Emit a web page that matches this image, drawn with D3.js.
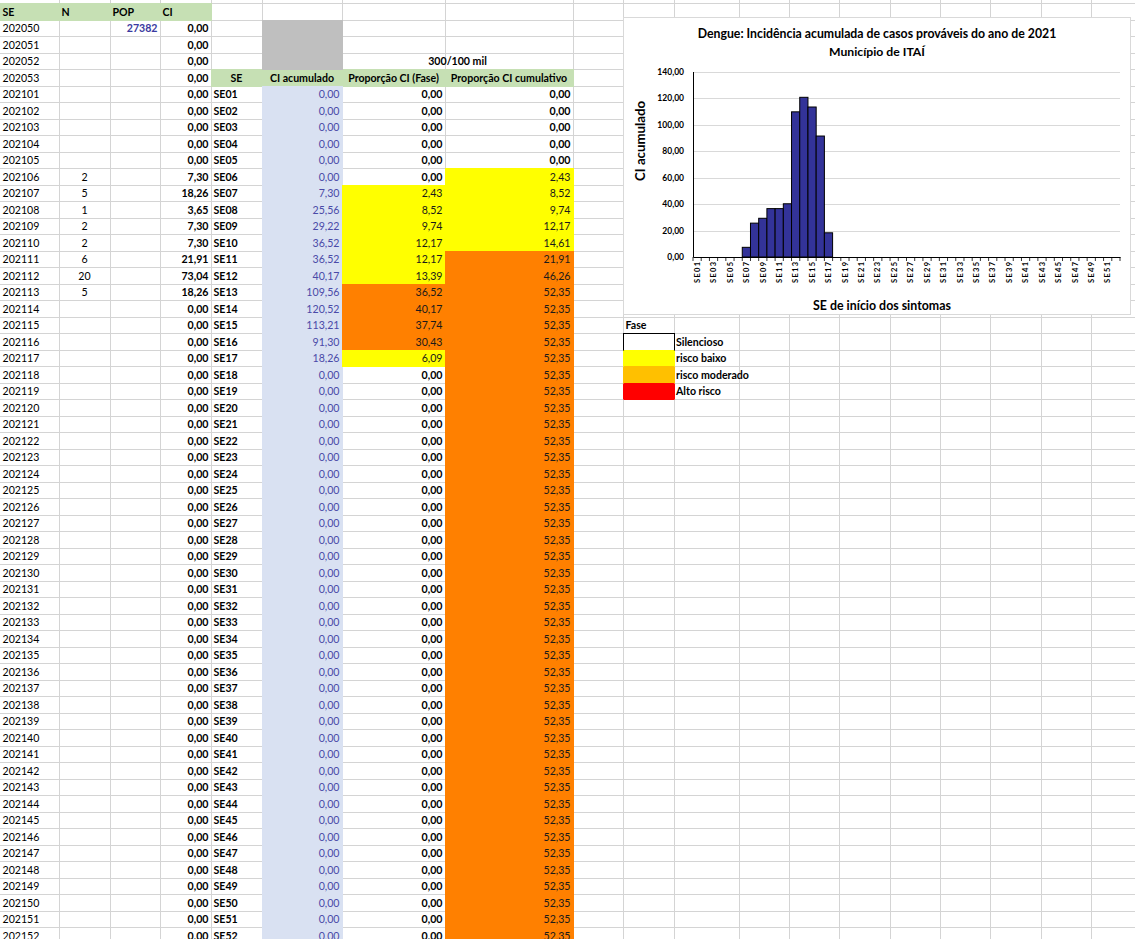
<!DOCTYPE html>
<html><head><meta charset="utf-8">
<script src="https://cdn.jsdelivr.net/npm/d3@7"></script>
<style>
html,body{margin:0;padding:0;background:#fff;overflow:hidden}
svg{display:block;font-family:Lato,"Open Sans",sans-serif}
</style></head><body>
<svg id="sheet" width="1135" height="939"></svg>
<script>
// ---------------- DATA ----------------
const headerLabels = ["SE", "N", "POP", "CI"];
const weekCodes = ["202050","202051","202052","202053",
 "202101","202102","202103","202104","202105","202106","202107","202108","202109","202110",
 "202111","202112","202113","202114","202115","202116","202117","202118","202119","202120",
 "202121","202122","202123","202124","202125","202126","202127","202128","202129","202130",
 "202131","202132","202133","202134","202135","202136","202137","202138","202139","202140",
 "202141","202142","202143","202144","202145","202146","202147","202148","202149","202150",
 "202151","202152"];
const casesN = [null,null,null,null,
 null,null,null,null,null,2,5,1,2,2,
 6,20,5,null,null,null,null,null,null,null,
 null,null,null,null,null,null,null,null,null,null,
 null,null,null,null,null,null,null,null,null,null,
 null,null,null,null,null,null,null,null,null,null,
 null,null];
const popValue = 27382;
const ciWeekly = [0,0,0,0,
 0,0,0,0,0,7.30,18.26,3.65,7.30,7.30,
 21.91,73.04,18.26,0,0,0,0,0,0,0,
 0,0,0,0,0,0,0,0,0,0,
 0,0,0,0,0,0,0,0,0,0,
 0,0,0,0,0,0,0,0,0,0,
 0,0];
const seLabels = ["SE01","SE02","SE03","SE04","SE05","SE06","SE07","SE08","SE09","SE10",
 "SE11","SE12","SE13","SE14","SE15","SE16","SE17","SE18","SE19","SE20",
 "SE21","SE22","SE23","SE24","SE25","SE26","SE27","SE28","SE29","SE30",
 "SE31","SE32","SE33","SE34","SE35","SE36","SE37","SE38","SE39","SE40",
 "SE41","SE42","SE43","SE44","SE45","SE46","SE47","SE48","SE49","SE50",
 "SE51","SE52"];
const ciAcumulado = [0,0,0,0,0,0,7.30,25.56,29.22,36.52,
 36.52,40.17,109.56,120.52,113.21,91.30,18.26,0,0,0,
 0,0,0,0,0,0,0,0,0,0,
 0,0,0,0,0,0,0,0,0,0,
 0,0,0,0,0,0,0,0,0,0,
 0,0];
const propFase = [0,0,0,0,0,0,2.43,8.52,9.74,12.17,
 12.17,13.39,36.52,40.17,37.74,30.43,6.09,0,0,0,
 0,0,0,0,0,0,0,0,0,0,
 0,0,0,0,0,0,0,0,0,0,
 0,0,0,0,0,0,0,0,0,0,
 0,0];
const propCumulativo = [0,0,0,0,0,2.43,8.52,9.74,12.17,14.61,
 21.91,46.26,52.35,52.35,52.35,52.35,52.35,52.35,52.35,52.35,
 52.35,52.35,52.35,52.35,52.35,52.35,52.35,52.35,52.35,52.35,
 52.35,52.35,52.35,52.35,52.35,52.35,52.35,52.35,52.35,52.35,
 52.35,52.35,52.35,52.35,52.35,52.35,52.35,52.35,52.35,52.35,
 52.35,52.35];
const tableHeaders = ["SE", "CI acumulado", "Proporção CI (Fase)", "Proporção CI cumulativo"];
const thresholdLabel = "300/100 mil";
const chartTicksY = [0,20,40,60,80,100,120,140];
const chartTitle = ["Dengue: Incidência acumulada de casos prováveis do ano de 2021", "Município de ITAÍ"];
const yAxisTitle = "CI acumulado";
const xAxisTitle = "SE de início dos sintomas";
const legendTitle = "Fase";
const legendLabels = ["Silencioso","risco baixo","risco moderado","Alto risco"];

// ---------------- LAYOUT / STYLE ----------------
const W = 1135, H = 939;
const colEdges = [0,59,110,160,211,262,342,445,573,623,674,739,789,839,890,940,990,1041,1091,1135];
const rowTop = d3.scaleLinear().domain([0,1]).range([3,19.5]);
const gridColor = "#d4d4d4";
const greenFill = "#C6E0B4", grayFill = "#BFBFBF", blueFill = "#D9E1F2";
const legendColors = ["#FFFFFF","#FFFF00","#FFC000","#FF0000"];
const phaseColor = d3.scaleThreshold().domain([0.005, 20, 300]).range([null, "#FFFF00", "#FF8000", "#FF0000"]);
const fmt = d3.formatLocale({decimal:",", thousands:".", grouping:[3], currency:["",""]}).format(".2f");
const FS = 10.6;

const svg = d3.select("#sheet");
svg.append("rect").attr("width",W).attr("height",H).attr("fill","#fff");

// gridlines
const grid = svg.append("g").attr("stroke", gridColor).attr("stroke-width",1);
d3.range(0,58).forEach(k => {
  const yy = Math.round(rowTop(k)) + 0.5;
  grid.append("line").attr("x1",0).attr("x2",W).attr("y1",yy).attr("y2",yy);
});
colEdges.slice(1,-1).forEach(xx => {
  grid.append("line").attr("x1",Math.round(xx)+0.5).attr("x2",Math.round(xx)+0.5).attr("y1",0).attr("y2",H);
});

// fills
const fills = svg.append("g");
function fillCells(c0, c1, r0, r1, color) {
  if (!color) return;
  const x0 = Math.round(colEdges[c0]), x1 = Math.round(colEdges[c1]);
  const y0 = Math.round(rowTop(r0)), y1 = Math.round(rowTop(r1));
  fills.append("rect").attr("x", x0).attr("y", y0).attr("width", x1 - x0 + 1).attr("height", y1 - y0 + 1).attr("fill", color);
}
fillCells(0,4,0,1,greenFill);
fillCells(4,8,4,5,greenFill);
fillCells(5,6,1,4,grayFill);
fillCells(5,6,5,5+seLabels.length,blueFill);
propFase.forEach((v,j) => fillCells(6,7,5+j,6+j,phaseColor(v)));
propCumulativo.forEach((v,j) => fillCells(7,8,5+j,6+j,phaseColor(v)));

// texts
const texts = svg.append("g").attr("font-size", FS);
function cellText(c, r, str, opt = {}) {
  const align = opt.align || "left";
  const c1 = opt.span ? c + opt.span : c + 1;
  let xx, anchor;
  if (align === "left") { xx = colEdges[c] + 2.5; anchor = "start"; }
  else if (align === "right") { xx = colEdges[c1] - 2.5; anchor = "end"; }
  else { xx = (colEdges[c] + colEdges[c1]) / 2; anchor = "middle"; }
  texts.append("text").attr("x", xx).attr("y", rowTop(r) + 12.5)
    .attr("text-anchor", anchor)
    .attr("font-weight", opt.bold ? "bold" : "normal")
    .attr("fill", opt.color || "#000")
    .text(str);
}
headerLabels.forEach((t,i) => cellText(i, 0, t, {bold:true}));
weekCodes.forEach((t,i) => {
  const r = i + 1;
  cellText(0, r, t);
  if (casesN[i] != null) cellText(1, r, String(casesN[i]), {align:"center"});
  cellText(3, r, fmt(ciWeekly[i]), {align:"right", bold:true});
});
cellText(2, 1, String(popValue), {align:"right", bold:true, color:"#3a3aa0"});
cellText(6, 3, thresholdLabel, {align:"center", span:2, bold:true});
tableHeaders.forEach((t,i) => cellText(4+i, 4, t, {align:"center", bold:true}));
seLabels.forEach((t,j) => {
  const r = 5 + j;
  cellText(4, r, t, {bold:true});
  cellText(5, r, fmt(ciAcumulado[j]), {align:"right", color:"#4a4aa8"});
  cellText(6, r, fmt(propFase[j]), {align:"right", bold: propFase[j] === 0, color: propFase[j] === 0 ? "#000" : "#1a1a1a"});
  cellText(7, r, fmt(propCumulativo[j]), {align:"right", bold: propCumulativo[j] === 0, color: propCumulativo[j] === 0 ? "#000" : "#1a1a1a"});
});

// legend
cellText(9, 19, legendTitle, {bold:true});
legendLabels.forEach((t,i) => {
  const r = 20 + i;
  const x0 = Math.round(colEdges[9]), x1 = Math.round(colEdges[10]);
  const y0 = Math.round(rowTop(r)), y1 = Math.round(rowTop(r+1));
  if (i === 0) {
    svg.append("rect").attr("x", x0+0.5).attr("y", y0+0.5).attr("width", x1-x0).attr("height", y1-y0)
      .attr("fill", legendColors[i]).attr("stroke","#000").attr("stroke-width",1);
  } else {
    svg.append("rect").attr("x", x0).attr("y", y0).attr("width", x1-x0+1).attr("height", y1-y0+1)
      .attr("rx", 1.5).attr("fill", legendColors[i]);
  }
  texts.append("text").attr("x", colEdges[10] + 2).attr("y", rowTop(r) + 12.5)
    .attr("font-weight","bold").text(t);
});

// ---------------- CHART ----------------
const chart = svg.append("g");
chart.append("rect").attr("x",623.5).attr("y",17.5).attr("width",507).attr("height",297)
  .attr("fill","#fff").attr("stroke","#d9d9d9");

const x = d3.scaleBand().domain(seLabels).range([693,1120]).padding(0);
const y = d3.scaleLinear().domain([0,140]).range([257,71.5]);

chart.append("g").selectAll("line").data(chartTicksY.filter(v => v > 0)).join("line")
  .attr("x1", 693).attr("x2", 1120).attr("y1", d => Math.round(y(d))+0.5).attr("y2", d => Math.round(y(d))+0.5)
  .attr("stroke","#d9d9d9");

chart.append("g").selectAll("rect").data(seLabels.map((s,i) => ({s, v: ciAcumulado[i]})).filter(d => d.v > 0)).join("rect")
  .attr("x", d => x(d.s)).attr("y", d => y(d.v)).attr("width", x.bandwidth()).attr("height", d => y(0) - y(d.v))
  .attr("fill","#333399").attr("stroke","#000").attr("stroke-width",1);

// band tick marks
chart.append("g").selectAll("line").data(seLabels.concat(["__end"])).join("line")
  .attr("x1", d => d === "__end" ? 1120 : x(d)).attr("x2", d => d === "__end" ? 1120 : x(d))
  .attr("y1", 257).attr("y2", 261).attr("stroke","#000").attr("stroke-width",0.8);

const yAxis = chart.append("g").attr("transform","translate(693,0)")
  .call(d3.axisLeft(y).tickValues(chartTicksY).tickSize(0).tickSizeOuter(0).tickPadding(9).tickFormat(fmt));
yAxis.select(".domain").attr("stroke","#000");
yAxis.selectAll("text").attr("font-family","Lato,sans-serif").attr("font-size",8.5).attr("font-weight","bold").attr("fill","#000");

const xAxis = chart.append("g").attr("transform","translate(0,257)")
  .call(d3.axisBottom(x).tickValues(seLabels.filter((d,i) => i % 2 === 0)).tickSize(0).tickSizeOuter(0));
xAxis.select(".domain").attr("stroke","#000").attr("stroke-width",1.2);
xAxis.selectAll("text")
  .attr("transform","rotate(-90)").attr("text-anchor","end").attr("x",-5).attr("y",0).attr("dy","0.36em")
  .attr("font-family","Lato,sans-serif").attr("font-size",7.5).attr("font-weight","bold").attr("fill","#000")
  .attr("textLength", 21).attr("lengthAdjust","spacing");

function fitText(sel, target) {
  const len = sel.node().getComputedTextLength();
  const fs = parseFloat(sel.attr("font-size"));
  sel.attr("font-size", fs * target / len);
}
const t1 = chart.append("text").attr("x",877).attr("y",38).attr("text-anchor","middle")
  .attr("font-size",11).attr("font-weight","bold").attr("fill","#000").text(chartTitle[0]);
fitText(t1, 359);
const t2 = chart.append("text").attr("x",877).attr("y",56).attr("text-anchor","middle")
  .attr("font-size",11).attr("font-weight","bold").attr("fill","#000").text(chartTitle[1]);
fitText(t2, 96);
const xt = chart.append("text").attr("x",882).attr("y",310).attr("text-anchor","middle")
  .attr("font-size",11).attr("font-weight","bold").attr("fill","#000").text(xAxisTitle);
fitText(xt, 138);
const yt = chart.append("text").attr("transform","translate(645,141) rotate(-90)").attr("text-anchor","middle")
  .attr("font-size",11).attr("font-weight","bold").attr("fill","#000").text(yAxisTitle);
fitText(yt, 80);
</script>
</body></html>
